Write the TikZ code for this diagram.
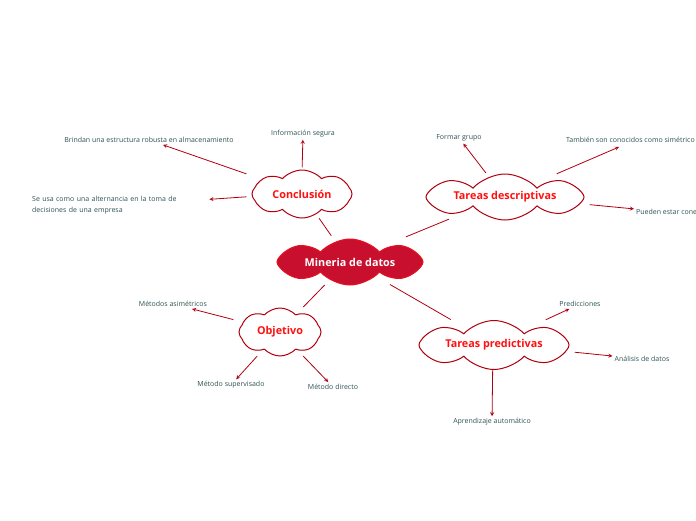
\documentclass[tikz,border=0pt]{standalone}
\usepackage{fontspec}
\setmainfont{Open Sans}
\usetikzlibrary{shapes.symbols, arrows, positioning}
\definecolor{corered}{HTML}{C8102E}
\definecolor{coreedge}{HTML}{E8101E}
\definecolor{linkred}{HTML}{B00010}
\definecolor{topicred}{HTML}{FF1010}
\definecolor{leafgray}{HTML}{2E5252}
\tikzstyle{core} = [cloud, cloud puffs=8, cloud puff arc=95, shape border rotate=22.5, cloud ignores aspect, inner sep=0pt, draw=coreedge, fill=corered, line width=1pt, text=white, font=\fontsize{10.8}{12}\selectfont\bfseries]
\tikzstyle{topic} = [cloud, cloud puffs=8, cloud puff arc=95, shape border rotate=22.5, cloud ignores aspect, inner sep=0pt, draw=linkred, fill=white, line width=1pt, text=topicred, font=\fontsize{10.8}{12}\selectfont\bfseries]
\tikzstyle{hub} = [rectangle, inner sep=0pt]
\tikzstyle{leaf} = [inner sep=2pt, text=leafgray, font=\fontsize{7}{11}\selectfont]
\tikzstyle{link} = [draw=linkred, line width=0.8pt, shorten <=2.5pt, shorten >=2.5pt]
\tikzstyle{arrow2} = [draw=linkred, line width=0.8pt, ->, >=stealth, shorten <=2.5pt]

\begin{document}
\begin{tikzpicture}[x=1pt, y=-1pt]
            \useasboundingbox (0,0) rectangle (696,520);
            % Nodes
            \node (mineria) [core, minimum width=146pt, minimum height=46pt] at (350,262) {Mineria de datos};
            \node (conclusion) [topic, minimum width=100pt, minimum height=48pt] at (302,194) {Conclusión};
            \node (descriptivas) [topic, minimum width=158pt, minimum height=46pt] at (505,197) {Tareas descriptivas};
            \node (objetivo) [topic, minimum width=82pt, minimum height=48pt] at (280,332) {Objetivo};
            \node (predictivas) [topic, minimum width=150pt, minimum height=49pt] at (494,345) {Tareas predictivas};

            \node (mineriahub) [hub, minimum width=153pt, minimum height=45pt] at (348.5,260.5) {};
            \node (conclusionhub) [hub, minimum width=105pt, minimum height=46pt] at (301.5,193) {};
            \node (descriptivashub) [hub, minimum width=166pt, minimum height=43pt] at (504,196.5) {};
            \node (objetivohub) [hub, minimum width=87pt, minimum height=45pt] at (279.5,331.5) {};
            \node (predictivashub) [hub, minimum width=158pt, minimum height=46pt] at (493,344) {};

            \node (brindan) [leaf] at (149,140) {Brindan una estructura robusta en almacenamiento};
            \node (segura) [leaf] at (303,134) {Información segura};
            \node (seusa) [leaf, anchor=west, text width=175pt, align=left] at (30,205.5) {Se usa como una alternancia en la toma de\\decisiones de una empresa};
            \node (grupo) [leaf] at (459,138) {Formar grupo};
            \node (simetrico) [leaf, anchor=east] at (697,140) {También son conocidos como simétrico};
            \node (conectados) [leaf, anchor=west] at (634,212) {Pueden estar cone};
            \node (asimetricos) [leaf] at (173,304) {Métodos asimétricos};
            \node (supervisado) [leaf] at (231,385) {Método supervisado};
            \node (directo) [leaf] at (333,387) {Método directo};
            \node (predicciones) [leaf] at (580,304) {Predicciones};
            \node (analisis) [leaf] at (642,359) {Análisis de datos};
            \node (aprendizaje) [leaf] at (492,422) {Aprendizaje automático};
            \coordinate (simetricotip) at (619,147);

            % Edges
            \draw [link] (mineriahub) -- (conclusionhub);
            \draw [link] (mineriahub) -- (descriptivashub);
            \draw [link] (mineriahub) -- (objetivohub);
            \draw [link] (mineriahub) -- (predictivashub);
            \draw [arrow2] (conclusionhub) -- (brindan);
            \draw [arrow2] (conclusionhub) -- (segura);
            \draw [arrow2] (conclusionhub) -- (seusa);
            \draw [arrow2] (descriptivashub) -- (grupo);
            \draw [arrow2] (descriptivashub) -- (simetricotip);
            \draw [arrow2] (descriptivashub) -- (conectados);
            \draw [arrow2] (objetivohub) -- (asimetricos);
            \draw [arrow2] (objetivohub) -- (supervisado);
            \draw [arrow2] (objetivohub) -- (directo);
            \draw [arrow2] (predictivashub) -- (predicciones);
            \draw [arrow2] (predictivashub) -- (analisis);
            \draw [arrow2] (predictivashub) -- (aprendizaje);
        \end{tikzpicture}
\end{document}
